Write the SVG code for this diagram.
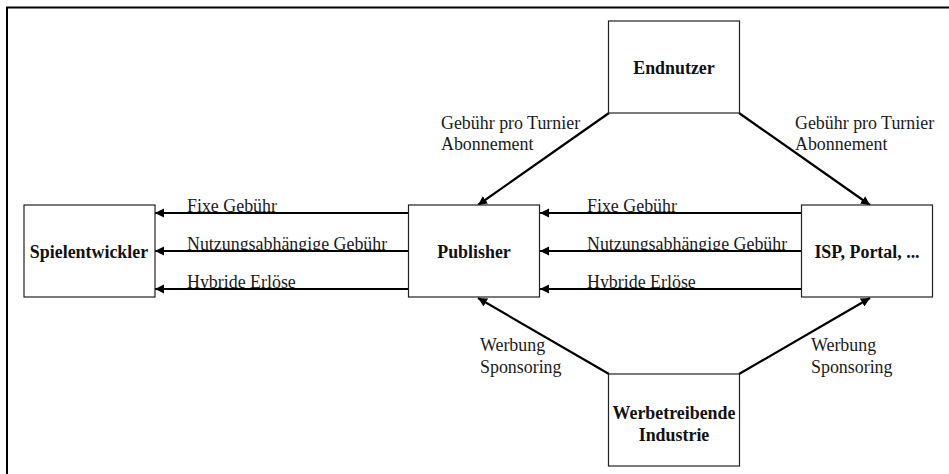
<svg xmlns="http://www.w3.org/2000/svg" width="949" height="474" viewBox="0 0 949 474">
<style>
text{font-family:"Liberation Serif","Times New Roman",serif;font-size:17.900px;fill:#1a1a1a}
.b{font-weight:bold;fill:#111;text-anchor:middle}
.n{fill:#fff;stroke:#222;stroke-width:1.2}
.c{stroke:#000;stroke-width:2.2;fill:none;marker-end:url(#a)}
.f{fill:none;stroke:#000;stroke-width:2}
</style>
<defs>
<marker id="a" markerUnits="userSpaceOnUse" markerWidth="10" markerHeight="10" refX="9" refY="4.5" orient="auto"><path d="M0 0L9 4.5L0 9z" fill="#000"/></marker>
<clipPath id="rows"><rect x="160" y="192" width="640" height="22"/><rect x="160" y="230" width="640" height="22"/><rect x="160" y="268" width="640" height="22"/></clipPath>
</defs>
<rect width="949" height="474" fill="#fff"/>
<path class="f" d="M7 474V7.500H949"/>
<g id="flow-labels" clip-path="url(#rows)">
<text x="187" y="212">Fixe Gebühr</text><text x="187" y="250">Nutzungsabhängige Gebühr</text><text x="187" y="288">Hybride Erlöse</text>
<text x="587" y="212">Fixe Gebühr</text><text x="587" y="250">Nutzungsabhängige Gebühr</text><text x="587" y="288">Hybride Erlöse</text>
</g>
<g id="connectors">
<path class="c" d="M408 213H155"/><path class="c" d="M408 251H155"/><path class="c" d="M408 289H155"/>
<path class="c" d="M802 213H540"/><path class="c" d="M802 251H540"/><path class="c" d="M802 289H540"/>
<path class="c" d="M609 113L478 205"/><path class="c" d="M739 113L870 205"/>
<path class="c" d="M609 374L478 298"/><path class="c" d="M739 374L870 298"/>
</g>
<g id="spielentwickler"><rect class="n" x="24" y="205" width="131" height="92"/><text class="b" x="89" y="258">Spielentwickler</text></g>
<g id="publisher"><rect class="n" x="408.500" y="205" width="131" height="92"/><text class="b" x="474" y="258">Publisher</text></g>
<g id="isp"><rect class="n" x="801.500" y="205" width="131" height="92"/><text class="b" x="867" y="258">ISP, Portal, ...</text></g>
<g id="endnutzer"><rect class="n" x="608.500" y="21" width="131" height="92"/><text class="b" x="674" y="73.500">Endnutzer</text></g>
<g id="werbetreibende"><rect class="n" x="608.500" y="374" width="131" height="92"/><text class="b" x="674" y="419">Werbetreibende</text><text class="b" x="674" y="441">Industrie</text></g>
<g id="labels">
<text x="441" y="129">Gebühr pro Turnier</text><text x="441" y="150">Abonnement</text>
<text x="795" y="129">Gebühr pro Turnier</text><text x="795" y="150">Abonnement</text>
<text x="480" y="350.500">Werbung</text><text x="480" y="372.500">Sponsoring</text>
<text x="811" y="350.500">Werbung</text><text x="811" y="372.500">Sponsoring</text>
</g>
</svg>
